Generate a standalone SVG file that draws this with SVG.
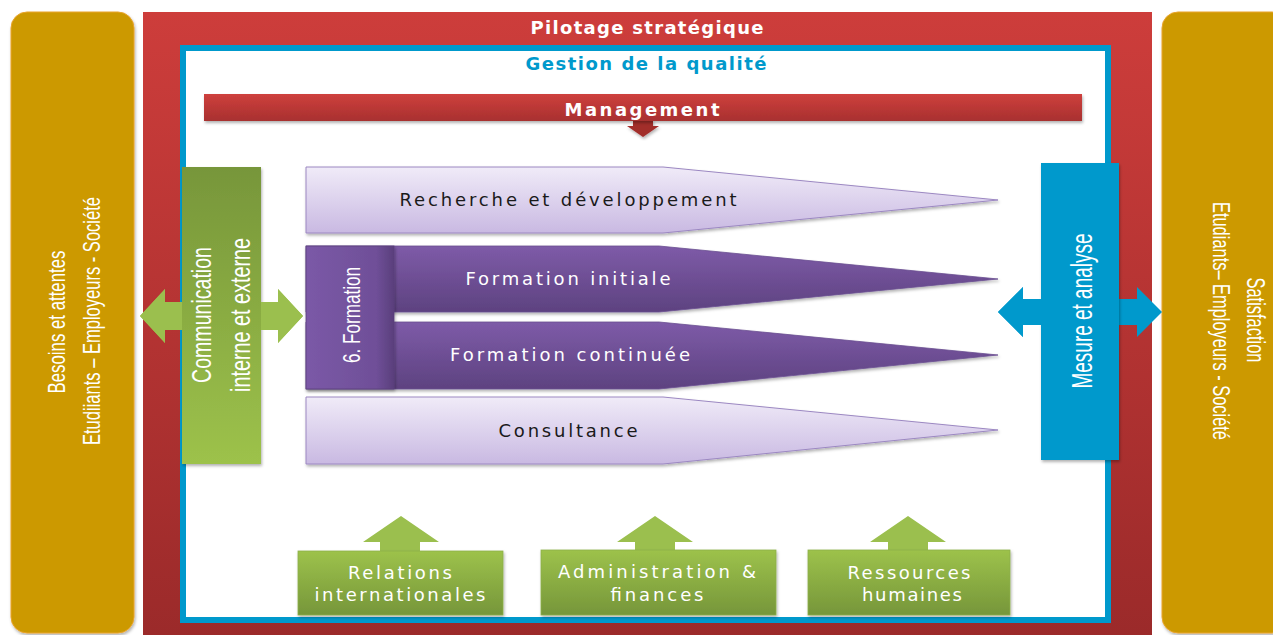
<svg xmlns="http://www.w3.org/2000/svg" width="1273" height="635" viewBox="0 0 1273 635">
  <defs>
    <linearGradient id="gRed" x1="0" y1="0" x2="0" y2="1">
      <stop offset="0" stop-color="#CD3D3B"/>
      <stop offset="1" stop-color="#9B2A2A"/>
    </linearGradient>
    <linearGradient id="gBar" x1="0" y1="0" x2="0" y2="1">
      <stop offset="0" stop-color="#CE403D"/>
      <stop offset="1" stop-color="#A8302F"/>
    </linearGradient>
    <linearGradient id="gGreenUp" x1="0" y1="0" x2="0" y2="1">
      <stop offset="0" stop-color="#77963A"/>
      <stop offset="1" stop-color="#9DC24B"/>
    </linearGradient>
    <linearGradient id="gGreenDown" x1="0" y1="0" x2="0" y2="1">
      <stop offset="0" stop-color="#9DC24B"/>
      <stop offset="1" stop-color="#76963A"/>
    </linearGradient>
    <linearGradient id="gLav" x1="0" y1="0" x2="0" y2="1">
      <stop offset="0" stop-color="#F0EBF8"/>
      <stop offset="1" stop-color="#C9B9E2"/>
    </linearGradient>
    <linearGradient id="gPurple" x1="0" y1="0" x2="0" y2="1">
      <stop offset="0" stop-color="#7E5BA8"/>
      <stop offset="1" stop-color="#5D4280"/>
    </linearGradient>
    <linearGradient id="gPurpleCol" x1="0" y1="0" x2="1" y2="0">
      <stop offset="0" stop-color="#7B59A7"/>
      <stop offset="0.8" stop-color="#6F4F98"/>
      <stop offset="1" stop-color="#5A3F7C"/>
    </linearGradient>
    <filter id="sh" x="-10%" y="-10%" width="120%" height="130%">
      <feDropShadow dx="1" dy="2" stdDeviation="1.5" flood-color="#000" flood-opacity="0.3"/>
    </filter>
    <style>
      .vt { font-family: "Liberation Sans Narrow", "Liberation Sans", "DejaVu Sans", sans-serif; fill: #ffffff; text-anchor: middle; }
      .ht { font-family: "DejaVu Sans", "Liberation Sans", sans-serif; font-size: 18px; text-anchor: middle; }
      .bt { font-family: "DejaVu Sans", "Liberation Sans", sans-serif; font-weight: bold; font-size: 18px; text-anchor: middle; }
      .light { fill: #ffffff; }
      .dark { fill: #1a1a1a; }
      .gold { fill: #CC9900; stroke: #E9A42C; stroke-width: 1; }
      .lav { fill: url(#gLav); stroke: #9C88C2; stroke-width: 1; }
      .pur { fill: url(#gPurple); stroke: #6A4E90; stroke-width: 0.8; }
      .gbox { fill: url(#gGreenDown); stroke: #8DAF4A; stroke-width: 0.8; }
      .garr { fill: #9BBF4E; }
      .blue { fill: #0099CC; }
    </style>
  </defs>

  <!-- outer frames -->
  <g id="pilotage">
    <rect x="143" y="12" width="1009" height="626" fill="url(#gRed)"/>
    <text class="bt light" x="647" y="34" textLength="233" lengthAdjust="spacing">Pilotage stratégique</text>
  </g>
  <g id="qualite">
    <rect x="183" y="48" width="925" height="572" fill="#ffffff" stroke="#0099CC" stroke-width="6"/>
    <text class="bt" x="646" y="70" fill="#0099CC" textLength="241" lengthAdjust="spacing">Gestion  de la qualité</text>
  </g>

  <!-- side boxes -->
  <g id="besoins">
    <rect class="gold" x="11" y="12" width="123" height="621" rx="16" ry="16" filter="url(#sh)"/>
    <text class="vt" font-size="24" transform="translate(65,322) rotate(-90)" textLength="143" lengthAdjust="spacingAndGlyphs">Besoins et attentes</text>
    <text class="vt" font-size="24" transform="translate(100,321) rotate(-90)" textLength="248" lengthAdjust="spacingAndGlyphs">Etudiiants – Employeurs - Société</text>
  </g>
  <g id="satisfaction">
    <rect class="gold" x="1162" y="12" width="126" height="621" rx="16" ry="16" filter="url(#sh)"/>
    <text class="vt" font-size="25" transform="translate(1247,320) rotate(90)" textLength="85" lengthAdjust="spacingAndGlyphs">Satisfaction</text>
    <text class="vt" font-size="24" transform="translate(1213,321) rotate(90)" textLength="238" lengthAdjust="spacingAndGlyphs">Etudiants– Employeurs - Société</text>
  </g>

  <!-- connectors -->
  <g id="connectors">
    <path id="arrow-management" d="M633,120 H653 V126 H659 L643,137 L627,126 H633 Z" fill="#A22D2C" filter="url(#sh)"/>
    <path id="arrow-communication" d="M140,316 L165,289 L165,302 L278,302 L278,289 L303,316 L278,343 L278,330 L165,330 L165,343 Z" class="garr"/>
    <path id="arrow-mesure" d="M998,312 L1023,287 L1023,299 L1137,299 L1137,287 L1162,312 L1137,337 L1137,325 L1023,325 L1023,337 Z" class="blue"/>
    <path id="arrow-relations" d="M380,551 V542 H363 L401,516 L439,542 H420 V551 Z" class="garr"/>
    <path id="arrow-admin" d="M635,551 V542 H617 L655,516 L693,542 H675 V551 Z" class="garr"/>
    <path id="arrow-rh" d="M888,551 V542 H870 L908,516 L946,542 H928 V551 Z" class="garr"/>
  </g>

  <g id="management">
    <rect x="204" y="94" width="878" height="27" fill="url(#gBar)" filter="url(#sh)"/>
    <text class="bt light" x="642" y="116" textLength="155" lengthAdjust="spacing">Management</text>
  </g>

  <g id="communication">
    <rect x="182" y="167" width="79" height="297" fill="url(#gGreenUp)" filter="url(#sh)"/>
    <path d="M140,316 L165,289 L165,302 L182,302 L182,330 L165,330 L165,343 Z M261,302 L278,302 L278,289 L303,316 L278,343 L278,330 L261,330 Z" class="garr"/>
    <text class="vt" font-size="28" transform="translate(211,315) rotate(-90)" textLength="136" lengthAdjust="spacingAndGlyphs">Communication</text>
    <text class="vt" font-size="28" transform="translate(250,315) rotate(-90)" textLength="154" lengthAdjust="spacingAndGlyphs">interne et externe</text>
  </g>

  <g id="mesure">
    <rect class="blue" x="1041" y="163" width="78" height="297" filter="url(#sh)"/>
    <path d="M998,312 L1023,287 L1023,299 L1041,299 L1041,325 L1023,325 L1023,337 Z" class="blue"/>
    <text class="vt" font-size="30" transform="translate(1092,311) rotate(-90)" textLength="155" lengthAdjust="spacingAndGlyphs">Mesure et analyse</text>
  </g>

  <g id="recherche">
    <path class="lav" d="M306,167 H663 L998,200 L663,233 H306 Z" filter="url(#sh)"/>
    <text class="ht dark" x="568" y="206" textLength="337" lengthAdjust="spacing">Recherche  et développement</text>
  </g>

  <g id="formation-initiale">
    <path class="pur" d="M306,246 H659 L998,279 L659,312 H306 Z" filter="url(#sh)"/>
    <text class="ht light" x="568" y="285" textLength="205" lengthAdjust="spacing">Formation initiale</text>
  </g>

  <g id="formation-continuee">
    <path class="pur" d="M306,322 H659 L998,355 L659,389 H306 Z" filter="url(#sh)"/>
    <text class="ht light" x="570" y="361" textLength="240" lengthAdjust="spacing">Formation continuée</text>
  </g>

  <g id="formation">
    <rect x="306" y="246" width="88" height="143" fill="url(#gPurpleCol)" stroke="#5A3F7C" stroke-width="0.8" filter="url(#sh)"/>
    <text class="vt" font-size="24" transform="translate(360,315) rotate(-90)" textLength="96" lengthAdjust="spacingAndGlyphs">6. Formation</text>
  </g>

  <g id="consultance">
    <path class="lav" d="M306,397 H663 L998,430 L663,464 H306 Z" filter="url(#sh)"/>
    <text class="ht dark" x="568" y="437" textLength="139" lengthAdjust="spacing">Consultance</text>
  </g>

  <g id="relations">
    <rect class="gbox" x="298" y="551" width="205" height="64" filter="url(#sh)"/>
    <text class="ht light" font-size="18" x="400" y="579" textLength="104" lengthAdjust="spacing">Relations</text>
    <text class="ht light" font-size="18" x="400" y="601" textLength="171" lengthAdjust="spacing">internationales</text>
  </g>

  <g id="administration">
    <rect class="gbox" x="541" y="550" width="235" height="65" filter="url(#sh)"/>
    <text class="ht light" font-size="18" x="657" y="578" textLength="198" lengthAdjust="spacing">Administration &amp;</text>
    <text class="ht light" font-size="18" x="657" y="601" textLength="93" lengthAdjust="spacing">finances</text>
  </g>

  <g id="ressources">
    <rect class="gbox" x="808" y="550" width="202" height="65" filter="url(#sh)"/>
    <text class="ht light" font-size="18" x="909" y="579" textLength="123" lengthAdjust="spacing">Ressources</text>
    <text class="ht light" font-size="18" x="912" y="601" textLength="100" lengthAdjust="spacing">humaines</text>
  </g>
</svg>
